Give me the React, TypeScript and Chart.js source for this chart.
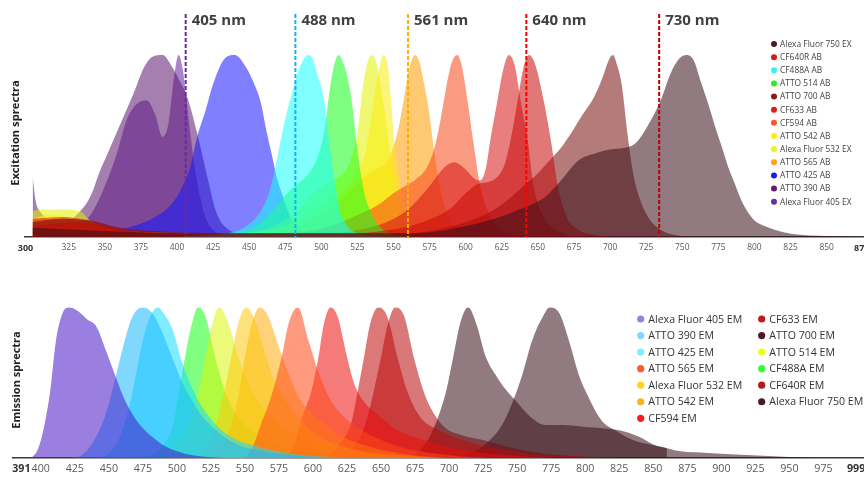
import React, { useEffect, useRef } from "react";
import { Chart, registerables } from "chart.js";

Chart.register(...registerables);

type Pt = [number, number];

// ---------- Excitation spectra (wavelength nm, % of max) ----------
const af750Ex: Pt[] = [[300,5],[330,4],[360,3],[400,2],[560,2],[580,3],[600,6],[620,10],[640,16],[655,22],[666,31],[678,42],[690,46],[700,48],[710,49],[717,51],[726,61],[735,75],[742,90],[748,98],[753,100],[758,97],[763,85],[768,73],[773,60],[778,48],[782,38],[786,30],[791,20],[796,13],[800,9],[807,6],[814,4],[828,1.5],[850,0.5],[870,0]];
const cf640rAb: Pt[] = [[300,6],[330,8],[360,4],[400,2],[520,2],[540,3],[570,8],[590,16],[600,24],[608,29],[615,30],[622,33],[627,40],[631,53],[636,75],[640,93],[644,100],[648,95],[654,75],[659,53],[664,27],[670,11],[678,4],[690,1],[700,0]];
const cf488aAb: Pt[] = [[400,0],[420,1],[440,3],[450,7],[458,14],[464,25],[468,38],[472,54],[476,68],[480,80],[484,91],[488,98],[491,100],[494,98],[497,90],[502,75],[506,48],[510,27],[513,14],[517,7],[522,3],[530,1],[545,0]];
const atto514Ab: Pt[] = [[420,0],[440,2],[455,6],[465,13],[472,20],[480,27],[488,32],[494,38],[498,45],[502,58],[506,82],[509,95],[512,100],[515,96],[518,88],[521,75],[525,48],[529,27],[534,14],[540,6],[548,2],[560,0]];
const atto700Ab: Pt[] = [[300,8],[320,10],[340,9],[360,5],[390,3],[450,2],[560,2],[580,4],[600,8],[620,15],[630,21],[640,28],[650,35],[658,42],[666,49],[673,57],[680,66],[689,77],[695,88],[699,97],[702,100],[705,94],[708,84],[712,57],[716,35],[721,20],[728,9],[735,4],[745,1],[760,0]];
const cf633Ab: Pt[] = [[300,10],[320,11],[340,9],[360,5],[400,2],[500,2],[520,3],[545,8],[560,15],[575,28],[585,38],[592,41],[600,37],[606,32],[610,31],[614,38],[617,53],[622,75],[626,92],[630,100],[634,94],[638,75],[643,53],[647,28],[654,11],[660,5],[670,1],[680,0]];
const cf594Ab: Pt[] = [[300,9],[320,10],[340,8],[360,4],[400,2],[470,2],[490,3],[510,7],[525,12],[540,18],[550,24],[558,28],[566,32],[573,38],[578,48],[582,62],[586,80],[590,95],[594,100],[597,95],[601,76],[606,48],[610,28],[616,13],[622,5],[630,2],[640,0]];
const atto542Ab: Pt[] = [[300,10],[310,12],[330,10],[345,5],[370,3],[420,2],[460,3],[480,8],[495,14],[505,20],[512,24],[518,28],[525,35],[530,45],[535,68],[539,88],[543,100],[546,94],[548,78],[551,48],[555,27],[559,13],[564,5],[570,2],[580,0]];
const af532Ex: Pt[] = [[300,14],[305,15],[320,15],[333,14],[340,9],[350,5],[370,3],[400,2],[430,2],[460,4],[480,12],[495,24],[505,30],[512,33],[518,38],[522,47],[525,57],[529,84],[532,96],[535,100],[538,96],[541,84],[545,62],[549,38],[553,20],[557,10],[562,4],[570,1],[580,0]];
const atto565Ab: Pt[] = [[300,6],[320,8],[340,5],[370,3],[450,2],[470,3],[490,8],[505,15],[515,22],[525,30],[533,35],[540,38],[546,42],[550,50],[553,58],[557,75],[561,93],[565,100],[568,96],[571,85],[574,72],[578,48],[582,28],[587,13],[592,5],[600,1],[610,0]];
const atto425Ab: Pt[] = [[300,4],[330,3],[350,3],[370,6],[385,11],[395,17],[402,25],[409,38],[414,55],[420,70],[425,84],[432,97],[440,100],[448,93],[453,85],[458,74],[462,58],[466,44],[469,33],[473,23],[476,16],[480,9],[484,5],[490,2],[500,1],[520,0]];
const atto390Ab: Pt[] = [[300,33],[302,20],[306,13],[312,9],[323,9],[335,16],[341,24],[346,35],[352,46],[358,57],[364,68],[370,79],[377,93],[383,99],[390,100],[397,93],[403,84],[407,77],[414,57],[421,33],[427,14],[434,5],[445,1.5],[460,0.5],[480,0]];
const af405Ex: Pt[] = [[300,8],[310,6],[320,5],[330,6],[340,12],[350,28],[358,45],[365,64],[372,73],[379,75],[385,67],[390,55],[394,62],[398,88],[401,100],[404,92],[408,65],[412,40],[416,22],[420,10],[425,4],[432,1],[445,0]];

const exNames = ["Alexa Fluor 750 EX","CF640R AB","CF488A AB","ATTO 514 AB","ATTO 700 AB","CF633 AB","CF594 AB","ATTO 542 AB","Alexa Fluor 532 EX","ATTO 565 AB","ATTO 425 AB","ATTO 390 AB","Alexa Fluor 405 EX"];
const exData: Pt[][] = [af750Ex, cf640rAb, cf488aAb, atto514Ab, atto700Ab, cf633Ab, cf594Ab, atto542Ab, af532Ex, atto565Ab, atto425Ab, atto390Ab, af405Ex];

// ---------- Emission spectra ----------
const af405Em: Pt[] = [[391,0],[394,1],[398,6],[402,19],[407,45],[411,77],[416,96],[421,100],[428,97],[434,92],[441,87],[448,71],[455,54],[462,38],[472,23],[482,14],[492,7.5],[506,3],[520,1],[540,0]];
const atto390Em: Pt[] = [[420,0],[430,2],[438,10],[448,30],[455,54],[460,72],[467,93],[475,100],[482,96],[489,84],[496,68],[504,50],[516,31],[528,19],[540,11],[555,6],[575,3],[600,1],[630,0]];
const atto425Em: Pt[] = [[440,0],[450,3],[458,14],[465,34],[470,56],[475,78],[480,93],[486,100],[491,95],[497,85],[504,63],[514,41],[526,25],[540,14],[560,7.5],[584,3],[610,1],[640,0]];
const atto565Em: Pt[] = [[550,0],[556,8],[562,23],[569,40],[577,67],[582,89],[589,100],[596,80],[604,57],[612,40],[622,28],[635,19],[650,12],[670,6],[700,2],[730,0]];
const af532Em: Pt[] = [[510,0],[520,5],[528,20],[535,45],[540,67],[545,89],[551,100],[557,92],[563,75],[570,55],[580,38],[592,24],[605,14],[620,8],[640,4],[670,1.5],[700,0]];
const atto542Em: Pt[] = [[525,0],[533,8],[540,23],[545,40],[550,67],[555,89],[561,100],[567,94],[574,76],[582,56],[591,38],[603,27],[620,15],[640,8],[665,3],[700,0]];
const cf594Em: Pt[] = [[580,0],[586,8],[592,27],[599,45],[604,67],[608,89],[613,100],[618,94],[625,67],[630,50],[637,38],[650,27],[662,18.5],[681,12],[698,7.5],[720,4],[750,1.5],[780,0]];
const cf633Em: Pt[] = [[610,0],[620,10],[628,23],[633,45],[637.5,67],[642,89],[648,100],[654.5,94],[662,67],[669,45],[679,27],[693,18.5],[710,12],[730,7],[760,3],[800,1],[830,0]];
const atto700Em: Pt[] = [[665,0],[671,1],[681,7.5],[688,18.5],[693,30],[698,45],[703,67],[708,89],[714,100],[720,89],[727,67],[735,54],[742,45],[749,38],[759,28],[771,22],[783,22],[800,20.7],[825,18.5],[840,14],[850,9],[860,6.6]];
const atto514Em: Pt[] = [[490,0],[501,10],[509,23],[516,45],[521,67],[526,89],[531,100],[538,89],[545,67],[555,45],[569,27],[589,15],[610,8],[635,4],[660,1.5],[690,0]];
const cf488aEm: Pt[] = [[470,0],[477,1],[489,7.5],[497,21],[501,41],[506,67],[511,89],[515.5,100],[521,94],[528,67],[535,45],[545,27],[560,16],[577,8],[595,4],[620,2],[650,0]];
const cf640rEm: Pt[] = [[620,0],[630,7.5],[637,18.5],[642,34],[650,67],[655,89],[660.5,100],[667,94],[674,67],[681,45],[686,34],[696,21],[710,15],[725,12],[745,7],[770,3],[800,1],[830,0]];
const af750Em: Pt[] = [[700,0],[710,2],[720,5],[730,12],[739.5,23],[747,38],[754,56],[761,78],[769,94],[774,100],[781,96],[788,78],[795,56],[800,45],[812,25],[822,18.5],[835,12],[850,8.6],[860,6.6],[870,4.5],[890,3.5],[910,2.5],[935,1.5],[957,0.5],[970,0]];

const emNames = ["Alexa Fluor 405 EM","ATTO 390 EM","ATTO 425 EM","ATTO 565 EM","Alexa Fluor 532 EM","ATTO 542 EM","CF594 EM","CF633 EM","ATTO 700 EM","ATTO 514 EM","CF488A EM","CF640R EM","Alexa Fluor 750 EM"];
const emData: Pt[][] = [af405Em, atto390Em, atto425Em, atto565Em, af532Em, atto542Em, cf594Em, cf633Em, atto700Em, atto514Em, cf488aEm, cf640rEm, af750Em];

// ---------- Axes & lasers ----------
const exTicks = [325, 350, 375, 400, 425, 450, 475, 500, 525, 550, 575, 600, 625, 650, 675, 700, 725, 750, 775, 800, 825, 850];
const emTicks = [400, 425, 450, 475, 500, 525, 550, 575, 600, 625, 650, 675, 700, 725, 750, 775, 800, 825, 850, 875, 900, 925, 950, 975];
const exRange = [300, 870];
const emRange = [391, 999];
const laserPos = [406, 482, 560, 642, 734];
const laserLabels = ["405 nm", "488 nm", "561 nm", "640 nm", "730 nm"];

// ---------- Styles ----------
const exFill = ["rgba(57,15,24,0.55)","rgba(200,10,10,0.55)","rgba(24,255,255,0.55)","rgba(20,255,30,0.55)","rgba(120,13,13,0.55)","rgba(215,20,20,0.55)","rgba(246,71,24,0.55)","rgba(251,237,13,0.55)","rgba(228,242,0,0.55)","rgba(255,155,0,0.55)","rgba(22,22,255,0.55)","rgba(91,22,111,0.55)","rgba(100,30,160,0.55)"];
const exDot = ["#4a1a2a","#d41a1a","#2ef5f5","#22ee22","#8b1a1a","#e01a1a","#ff5522","#ffee00","#eaf51a","#ffa01a","#1a1aff","#6a1a6e","#6a2aa0"];
const emFill = ["rgba(73,22,199,0.55)","rgba(24,184,255,0.55)","rgba(24,221,255,0.55)","rgba(255,71,22,0.55)","rgba(251,200,13,0.55)","rgba(255,173,13,0.55)","rgba(237,13,13,0.55)","rgba(191,9,9,0.55)","rgba(57,15,24,0.55)","rgba(219,246,13,0.55)","rgba(24,255,24,0.55)","rgba(184,9,9,0.55)","rgba(57,15,24,0.55)"];
const emDot = ["#9b7fe0","#7fd6ff","#7feeff","#ff5a2a","#ffd21f","#ffb21f","#ff1a1a","#c21a1a","#4a1a2a","#e5ff1a","#33ff33","#b51a1a","#4a1a2a"];
const laserColors = ["#6a2aa0", "#1ab0f0", "#ffb000", "#ff0000", "#c00000"];

const FONT = '"Open Sans", "DejaVu Sans", sans-serif';

function buildDatasets(names: string[], data: Pt[][], fills: string[]) {
  return names.map((n, i) => ({
    label: n,
    data: data[i].map(([x, y]) => ({ x, y })),
    backgroundColor: fills[i],
    borderColor: "rgba(0,0,0,0)",
    borderWidth: 0,
    pointRadius: 0,
    fill: "origin",
    tension: 0.4,
    cubicInterpolationMode: "monotone",
  }));
}

export default function App() {
  const topRef = useRef<HTMLCanvasElement>(null);
  const botRef = useRef<HTMLCanvasElement>(null);

  useEffect(() => {
    document.body.style.margin = "0";
    document.body.style.overflow = "hidden";

    const topDecor = {
      id: "topDecor",
      afterDatasetsDraw(chart: any) {
        const { ctx, chartArea } = chart;
        const xs = chart.scales.x;
        ctx.save();
        laserPos.forEach((p, i) => {
          const x = xs.getPixelForValue(p);
          ctx.strokeStyle = laserColors[i];
          ctx.lineWidth = 2;
          ctx.setLineDash([4, 2]);
          ctx.beginPath();
          ctx.moveTo(x, chartArea.top);
          ctx.lineTo(x, chartArea.bottom);
          ctx.stroke();
          ctx.setLineDash([]);
          ctx.fillStyle = "#404040";
          ctx.font = `bold 15px ${FONT}`;
          ctx.textBaseline = "middle";
          ctx.textAlign = "left";
          ctx.fillText(laserLabels[i], x + 6, 21);
        });
        ctx.restore();
      },
      afterDraw(chart: any) {
        const { ctx } = chart;
        const xs = chart.scales.x;
        ctx.save();
        ctx.fillStyle = "#333";
        ctx.font = `bold 9px ${FONT}`;
        ctx.textBaseline = "middle";
        ctx.textAlign = "right";
        ctx.fillText(String(exRange[0]), xs.getPixelForValue(exRange[0]) + 0.6, 248.5);
        ctx.textAlign = "left";
        ctx.fillText(String(exRange[1]), xs.getPixelForValue(exRange[1]) - 1.5, 248.5);
        // y title
        ctx.save();
        ctx.translate(16, 133);
        ctx.rotate(-Math.PI / 2);
        ctx.textAlign = "center";
        ctx.font = `bold 11.2px ${FONT}`;
        ctx.fillStyle = "#222";
        ctx.fillText("Excitation sprectra", 0, 0);
        ctx.restore();
        // legend
        exNames.forEach((n, i) => {
          const y = 44 + i * 13.14;
          ctx.fillStyle = exDot[i];
          ctx.beginPath();
          ctx.arc(774, y, 3, 0, Math.PI * 2);
          ctx.fill();
          ctx.fillStyle = "#444";
          ctx.font = `8.4px ${FONT}`;
          ctx.textAlign = "left";
          ctx.fillText(n, 780, y + 0.5);
        });
        ctx.restore();
      },
    };

    const botDecor = {
      id: "botDecor",
      afterDraw(chart: any) {
        const { ctx } = chart;
        const xs = chart.scales.x;
        ctx.save();
        ctx.fillStyle = "#333";
        ctx.font = `bold 10.7px ${FONT}`;
        ctx.textBaseline = "middle";
        ctx.textAlign = "right";
        ctx.fillText(String(emRange[0]), xs.getPixelForValue(emRange[0]) + 2, 207);
        ctx.textAlign = "center";
        ctx.fillText(String(emRange[1]), xs.getPixelForValue(emRange[1]), 207);
        ctx.save();
        ctx.translate(17, 118);
        ctx.rotate(-Math.PI / 2);
        ctx.textAlign = "center";
        ctx.font = `bold 11px ${FONT}`;
        ctx.fillStyle = "#222";
        ctx.fillText("Emission sprectra", 0, 0);
        ctx.restore();
        emNames.forEach((n, i) => {
          const col = i < 7 ? 0 : 1;
          const row = i < 7 ? i : i - 7;
          const y = 57 + row * 16.55;
          const dx = col === 0 ? 640.7 : 761.7;
          ctx.fillStyle = emDot[i];
          ctx.beginPath();
          ctx.arc(dx, y, 3.6, 0, Math.PI * 2);
          ctx.fill();
          ctx.fillStyle = "#333";
          ctx.font = `10.6px ${FONT}`;
          ctx.textAlign = "left";
          ctx.fillText(n, dx + 7.6, y + 0.5);
        });
        ctx.restore();
      },
    };

    const c1 = new Chart(topRef.current!, {
      type: "line",
      data: { datasets: buildDatasets(exNames, exData, exFill) as any },
      options: {
        animation: false,
        responsive: true,
        maintainAspectRatio: false,
        events: [],
        layout: { padding: { left: 25, right: 0, top: 14, bottom: 3 } },
        plugins: { legend: { display: false }, tooltip: { enabled: false } },
        scales: {
          x: {
            type: "linear",
            min: 294.7,
            max: 875.9,
            grid: { display: false, drawTicks: false },
            border: { display: true, color: "#3a3a3a", width: 1.5 },
            ticks: { font: { family: FONT, size: 8.4 }, color: "#5a5a5a", padding: 6, autoSkip: false, maxRotation: 0 },
            afterBuildTicks: (s: any) => { s.ticks = exTicks.map((v) => ({ value: v })); },
          },
          y: { display: false, min: 0, max: 122.5 },
        },
      },
      plugins: [topDecor],
    });

    const c2 = new Chart(botRef.current!, {
      type: "line",
      data: { datasets: buildDatasets(emNames, emData, emFill) as any },
      options: {
        animation: false,
        responsive: true,
        maintainAspectRatio: false,
        events: [],
        layout: { padding: { left: 13, right: 0, top: 45.3, bottom: 4 } },
        plugins: { legend: { display: false }, tooltip: { enabled: false } },
        scales: {
          x: {
            type: "linear",
            min: 379.6,
            max: 1004.8,
            grid: { display: false, drawTicks: false },
            border: { display: true, color: "#3a3a3a", width: 1.5 },
            ticks: { font: { family: FONT, size: 10.7 }, color: "#5a5a5a", padding: 4.5, autoSkip: false, maxRotation: 0 },
            afterBuildTicks: (s: any) => { s.ticks = emTicks.map((v) => ({ value: v })); },
          },
          y: { display: false, min: 0, max: 100 },
        },
      },
      plugins: [botDecor],
    });

    return () => {
      c1.destroy();
      c2.destroy();
    };
  }, []);

  return (
    <div style={{ position: "relative", width: 864, height: 477, overflow: "hidden", background: "#fff" }}>
      <div style={{ position: "absolute", left: 0, top: 0, width: 864, height: 262 }}>
        <canvas ref={topRef} />
      </div>
      <div style={{ position: "absolute", left: 0, top: 262, width: 864, height: 222 }}>
        <canvas ref={botRef} />
      </div>
    </div>
  );
}
